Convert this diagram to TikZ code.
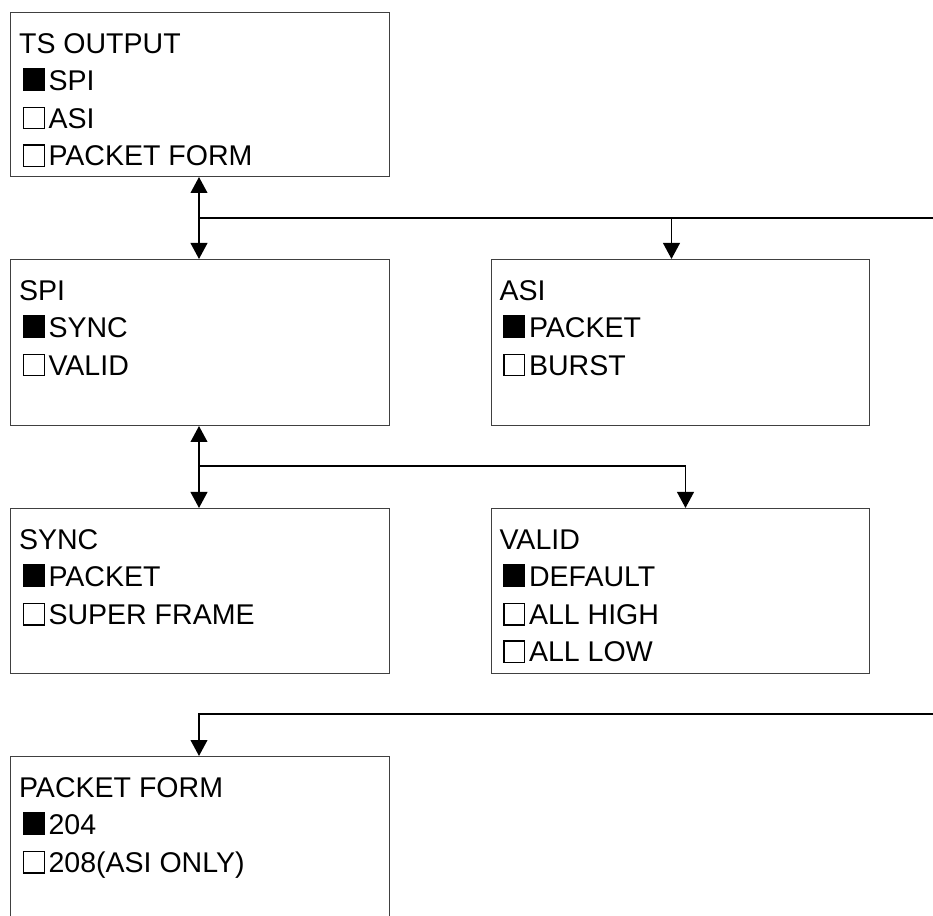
\documentclass[tikz,border=0pt]{standalone}
\usepackage{fontspec}
\setmainfont{Liberation Sans}
\usetikzlibrary{arrows.meta}
\newcommand{\sqon}{\hspace*{2.9pt}\rule{16.5pt}{17pt}\hspace{2.7pt}}
\newcommand{\sqoff}{\hspace*{2.9pt}{\setlength{\fboxsep}{0pt}\setlength{\fboxrule}{0.9pt}\fbox{\rule{0pt}{15.2pt}\hspace{14.7pt}}}\hspace{2.7pt}}
\newcommand{\boxlines}[4]{\foreach \t [count=\i] in {#4} {\node[txt] (#1-\i) at (#2, {#3+41.3+37.5*(\i-1)}) {\t};}}
\begin{document}
\begin{tikzpicture}[x=0.75pt,y=-0.75pt,
  menubox/.style={draw=black!75, line width=0.75pt, anchor=north west, inner sep=0pt, minimum width=283.9pt},
  txt/.style={anchor=base west, inner sep=0pt, font=\fontsize{21.4pt}{25pt}\selectfont},
  link/.style={line width=1.4pt},
  conn/.style={line width=1.4pt, -{Triangle[width=12.5pt,length=12pt]}},
  dconn/.style={line width=1.4pt, {Triangle[width=12.5pt,length=12pt]}-{Triangle[width=12.5pt,length=12pt]}}]
\useasboundingbox (0,0) rectangle (933,916);
\clip (0,0) rectangle (933,916);
% boxes
\node[menubox, minimum height=123pt] (ts) at (10,12) {};
\node[menubox, minimum height=124.5pt] (spi) at (10,259) {};
\node[menubox, minimum height=124.5pt] (asi) at (490.5,259) {};
\node[menubox, minimum height=123.75pt] (sync) at (10,508) {};
\node[menubox, minimum height=123.75pt] (valid) at (490.5,508) {};
\node[menubox, minimum height=150pt] (pf) at (10,756) {};
% texts
\boxlines{tsl}{18.8}{12}{TS OUTPUT, \sqon SPI, \sqoff ASI, \sqoff PACKET FORM}
\boxlines{spil}{18.8}{259}{SPI, \sqon SYNC, \sqoff VALID}
\boxlines{asil}{499.3}{259}{ASI, \sqon PACKET, \sqoff BURST}
\boxlines{syncl}{18.8}{508}{SYNC, \sqon PACKET, \sqoff SUPER FRAME}
\boxlines{validl}{499.3}{508}{VALID, \sqon DEFAULT, \sqoff ALL HIGH, \sqoff ALL LOW}
\boxlines{pfl}{18.8}{756}{PACKET FORM, \sqon 204, \sqoff 208(ASI ONLY)}
% connectors
\coordinate (j1) at (199,218.3);
\coordinate (e1) at (933,218.3);
\coordinate (j2) at (671.5,218.3);
\draw[dconn] (ts.south -| j1) -- (spi.north -| j1);
\draw[link] (j1) -- (e1);
\draw[conn] (j2) -- (asi.north -| j2);
\coordinate (j3) at (199,466);
\coordinate (j4) at (685.5,466);
\draw[dconn] (spi.south -| j3) -- (sync.north -| j3);
\draw[conn] (j3) -- (j4) -- (valid.north -| j4);
\coordinate (e2) at (933,714);
\coordinate (j5) at (199,714);
\draw[conn] (e2) -- (j5) -- (pf.north -| j5);
\end{tikzpicture}
\end{document}
